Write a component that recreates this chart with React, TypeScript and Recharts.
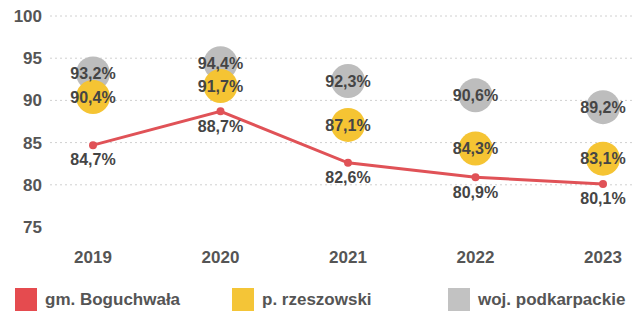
import { LineChart, Line, XAxis, YAxis, CartesianGrid, LabelList, Legend } from 'recharts'

const YEARS = ['2019', '2020', '2021', '2022', '2023']
const GMINA = [84.7, 88.7, 82.6, 80.9, 80.1]
const POWIAT = [90.4, 91.7, 87.1, 84.3, 83.1]
const WOJ = [93.2, 94.4, 92.3, 90.6, 89.2]
const Y_TICKS = [75, 80, 85, 90, 95, 100]
const GRID_VALUES = [80, 85, 90, 95, 100]

const SERIES = [
  { key: 'gmina', name: 'gm. Boguchwała', color: '#e54b4f', left: 15 },
  { key: 'powiat', name: 'p. rzeszowski', color: '#f4c537', left: 232 },
  { key: 'woj', name: 'woj. podkarpackie', color: '#c2c2c2', left: 448 },
]

const data = YEARS.map((year, i) => ({ year, gmina: GMINA[i], powiat: POWIAT[i], woj: WOJ[i] }))

const fmt = (v: number) => v.toFixed(1).replace('.', ',') + '%'
const FONT = '"Liberation Sans", Arial, sans-serif'

const bubble = (fill: string) => (props: any) => {
  const { cx, cy, index } = props
  return <circle key={`b-${index}`} cx={cx} cy={cy} r={17} fill={fill} />
}

function LegendBox() {
  return (
    <div style={{ position: 'relative', height: 42, fontFamily: FONT }}>
      {SERIES.map((s) => (
        <div key={s.key} style={{ position: 'absolute', left: s.left, top: 17, display: 'flex', alignItems: 'center' }}>
          <span style={{ display: 'inline-block', width: 22, height: 23, background: s.color }} />
          <span style={{ marginLeft: 8, fontSize: 17, fontWeight: 700, color: '#555' }}>{s.name}</span>
        </div>
      ))}
    </div>
  )
}

export default function App() {
  const labelStyle = { fontFamily: FONT, fontSize: 16, fontWeight: 700, fill: '#454545' }
  const tickStyle = { fontFamily: FONT, fontSize: 17, fontWeight: 700, fill: '#555' }
  return (
    <div style={{ position: 'absolute', left: 0, top: 0, width: 643, height: 313, background: '#fff' }}>
      <LineChart width={643} height={313} data={data} margin={{ top: 16, right: 8, left: 0, bottom: 0 }}>
        <CartesianGrid horizontal vertical={false} horizontalValues={GRID_VALUES} stroke="#d0d0d0" strokeDasharray="2 3" />
        <XAxis
          dataKey="year"
          axisLine={false}
          tickLine={false}
          tickSize={0}
          tickMargin={24}
          height={44}
          padding={{ left: 43, right: 32 }}
          tick={tickStyle}
        />
        <YAxis
          domain={[75, 100]}
          ticks={Y_TICKS}
          axisLine={false}
          tickLine={false}
          tickSize={0}
          tickMargin={8}
          width={50}
          tick={tickStyle}
        />
        <Legend verticalAlign="bottom" height={42} content={() => <LegendBox />} />
        <Line dataKey="woj" name="woj. podkarpackie" stroke="none" dot={bubble('#bdbdbd')} activeDot={false} isAnimationActive={false}>
          <LabelList dataKey="woj" position="center" formatter={(v: any) => fmt(Number(v))} style={labelStyle} />
        </Line>
        <Line dataKey="powiat" name="p. rzeszowski" stroke="none" dot={bubble('#f5c433')} activeDot={false} isAnimationActive={false}>
          <LabelList dataKey="powiat" position="center" formatter={(v: any) => fmt(Number(v))} style={labelStyle} />
        </Line>
        <Line
          dataKey="gmina"
          name="gm. Boguchwała"
          stroke="#e05257"
          strokeWidth={3}
          dot={{ r: 4, fill: '#e05257', stroke: 'none' }}
          activeDot={false}
          isAnimationActive={false}
        >
          <LabelList dataKey="gmina" position="bottom" offset={9} formatter={(v: any) => fmt(Number(v))} style={labelStyle} />
        </Line>
      </LineChart>
    </div>
  )
}
